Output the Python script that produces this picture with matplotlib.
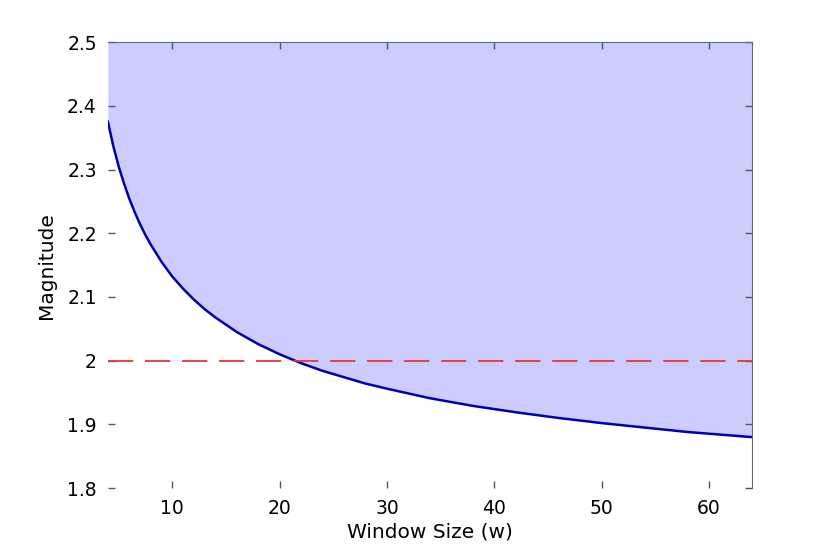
import matplotlib
matplotlib.use("Agg")
import matplotlib.pyplot as plt
import numpy as np

plt.rcParams['font.family'] = ['DejaVu Sans']

# values
window = [4, 4.5, 5, 5.5, 6, 6.5, 7, 7.5, 8, 9, 10, 11, 12, 13, 14, 16, 18,
          20, 22, 24, 26, 28, 30, 34, 38, 42, 46, 50, 54, 58, 64]
magnitude = [2.375, 2.337, 2.305, 2.278, 2.254, 2.233, 2.214, 2.197, 2.182,
             2.155, 2.132, 2.113, 2.096, 2.081, 2.068, 2.045, 2.026, 2.010,
             1.996, 1.984, 1.974, 1.964, 1.956, 1.941, 1.929, 1.919, 1.910,
             1.902, 1.895, 1.888, 1.880]
threshold = 2.0
xticks = [10, 20, 30, 40, 50, 60]
yticks = [1.8, 1.9, 2.0, 2.1, 2.2, 2.3, 2.4, 2.5]
ytick_labels = ['1.8', '1.9', '2', '2.1', '2.2', '2.3', '2.4', '2.5']

fig = plt.figure(figsize=(8.3, 5.54), dpi=100)
ax = fig.add_axes([0.13, 0.119, 0.776, 0.805])

ax.fill_between(window, magnitude, 2.5, color='#ccccff', linewidth=0)
ax.plot(window, magnitude, color='#0000b0', linewidth=1.8)
ax.plot([window[0], window[-1]], [threshold, threshold], color='#ee3333',
        linewidth=1.3, dashes=(14, 6.5))

ax.set_xlim(4, 64)
ax.set_ylim(1.8, 2.5)
ax.set_xticks(xticks)
ax.set_yticks(yticks)
ax.set_yticklabels(ytick_labels)
ax.tick_params(direction='in', length=5, width=1, colors='#555566',
               labelcolor='black', labelsize=13.5, top=True, right=True, pad=8)

ax.spines['left'].set_visible(False)
ax.spines['bottom'].set_visible(False)
ax.spines['top'].set_color('#666677')
ax.spines['right'].set_color('#666677')

ax.set_xlabel('Window Size (w)', fontsize=14.5, labelpad=3)
ax.set_ylabel('Magnitude', fontsize=14.5, labelpad=8)

fig.savefig('out.png', dpi=100)
